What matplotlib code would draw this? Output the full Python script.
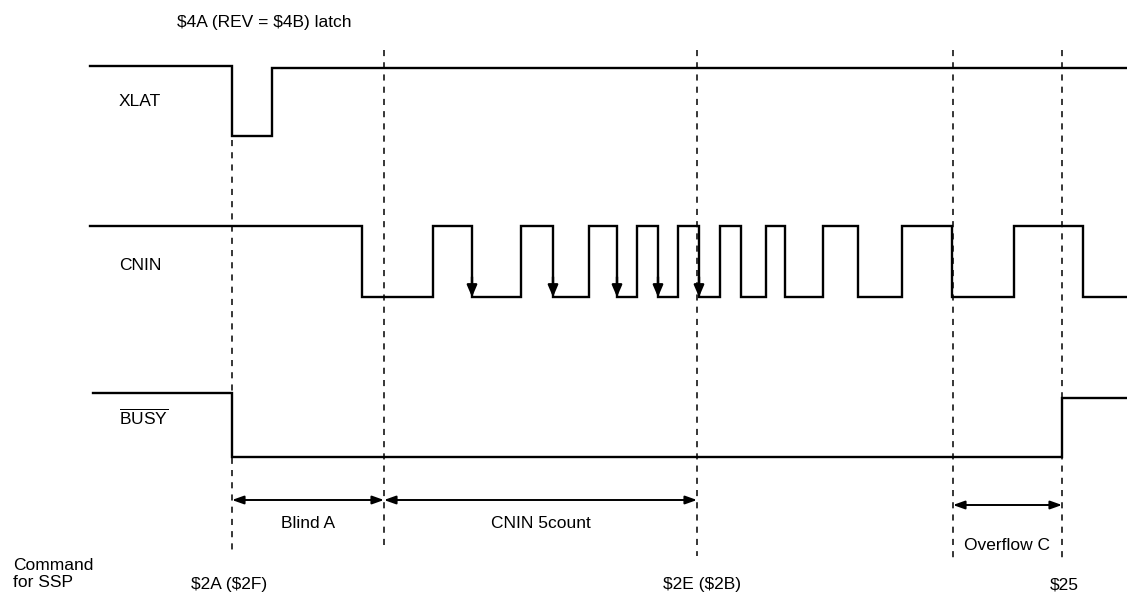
import matplotlib
matplotlib.use("Agg")
import matplotlib.pyplot as plt

plt.rcParams['font.family'] = ['Liberation Sans', 'DejaVu Sans']
plt.rcParams['mathtext.fontset'] = 'custom'
plt.rcParams['mathtext.rm'] = 'Liberation Sans'

# ---- data (time axis in diagram units, levels per signal) ----
t_start, t_end = 90, 1127
signal_names = ["XLAT", "CNIN", "BUSY"]

xlat_edges = [232, 272]
xlat_levels = [66, 136, 68]          # high, low, high

cnin_edges = [362, 433, 472, 521, 553, 589, 617, 637, 658, 678, 699,
              720, 741, 766, 785, 823, 858, 902, 952, 1014, 1083]
cnin_high, cnin_low = 226, 297
counted_edges = [472, 553, 617, 658, 699]

busy_edges = [232, 1062]
busy_levels = [393, 457, 398]        # high, low, high

marker_times = [232, 384, 697, 953, 1062]
marker_top = [140, 50, 50, 50, 50]
marker_bottom = [550, 550, 556, 560, 560]

intervals = [("Blind A", 232, 384, 500, 523),
             ("CNIN 5count", 384, 697, 500, 523),
             ("Overflow C", 953, 1062, 505, 545)]

commands = [(r"\$2A (\$2F)", 229), (r"\$2E (\$2B)", 702), (r"\$25", 1064)]
top_label = r"\$4A (REV = \$4B) latch"

fig = plt.figure(figsize=(11.27, 6.03), dpi=100)
ax = fig.add_axes([0, 0, 1, 1])
ax.set_xlim(0, 1127)
ax.set_ylim(603, 0)
ax.axis('off')

LW = 1.7
FS = 12.5


def step_trace(edges, levels, start, end):
    xs, ys = [start], [levels[0]]
    for i, e in enumerate(edges):
        xs += [e, e]
        ys += [levels[i], levels[i + 1]]
    xs.append(end)
    ys.append(levels[-1])
    return xs, ys


# XLAT
xs, ys = step_trace(xlat_edges, xlat_levels, t_start, t_end)
ax.plot(xs, ys, color='black', lw=LW, solid_joinstyle='miter')

# CNIN
cnin_levels = [cnin_high if i % 2 == 0 else cnin_low for i in range(len(cnin_edges) + 1)]
xs, ys = step_trace(cnin_edges, cnin_levels, t_start, t_end)
ax.plot(xs, ys, color='black', lw=LW, solid_joinstyle='miter')
for e in counted_edges:
    ax.annotate('', xy=(e, cnin_low), xytext=(e, cnin_low - 20),
                arrowprops=dict(arrowstyle='-|>,head_length=0.7,head_width=0.3',
                                color='black', lw=LW, shrinkA=0, shrinkB=0))

# BUSY
xs, ys = step_trace(busy_edges, busy_levels, 93, t_end)
ax.plot(xs, ys, color='black', lw=LW, solid_joinstyle='miter')

# vertical dashed markers
for x, y0, y1 in zip(marker_times, marker_top, marker_bottom):
    ax.plot([x, x], [y0, y1], color='black', lw=1.1, dashes=(4, 4))

# interval dimension arrows
for label, a, b, ya, yt in intervals:
    ax.annotate('', xy=(b, ya), xytext=(a, ya),
                arrowprops=dict(arrowstyle='<|-|>,head_length=0.7,head_width=0.25',
                                color='black', lw=1.4, shrinkA=0, shrinkB=0))
    ax.text((a + b) / 2, yt, label, ha='center', va='center', fontsize=FS)

# signal labels
ax.text(119, 101, "XLAT", ha='left', va='center', fontsize=FS)
ax.text(119, 265, "CNIN", ha='left', va='center', fontsize=FS)
ax.text(119, 417, r"$\overline{\mathrm{BUSY}}$", ha='left', va='center', fontsize=FS)

# top label
ax.text(177, 22, top_label, ha='left', va='center', fontsize=FS)

# command row
ax.text(13, 574, "Command\nfor SSP", ha='left', va='center', fontsize=FS, linespacing=1.15)
for label, x in commands:
    ax.text(x, 585, label, ha='center', va='center', fontsize=FS)

fig.savefig("out.png", dpi=100)
